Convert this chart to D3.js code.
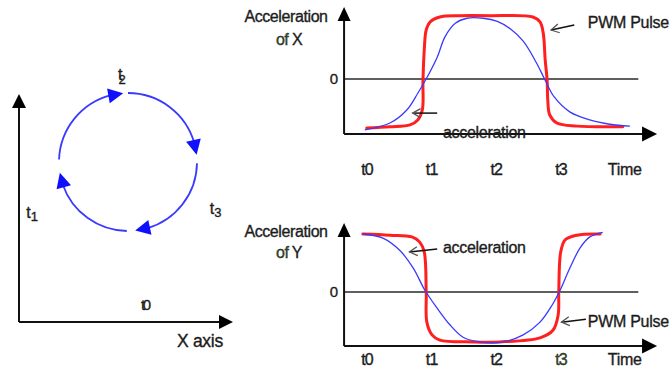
<!DOCTYPE html>
<html><head><meta charset="utf-8">
<script src="https://cdn.jsdelivr.net/npm/d3@7"></script>
<style>
html,body{margin:0;padding:0;background:#fff;}
svg{display:block;font-family:"Liberation Sans",Arial,sans-serif;}
svg text{stroke:#1c1c1c;stroke-width:0.35px;}
</style></head><body>
<svg id="chart" width="670" height="373"></svg>
<script>
// ---- time axis (shared by both acceleration plots) ----
const timeTicks = [0, 1, 2, 3];
const timeLabels = ["t0", "t1", "t2", "t3"];
const levelTicks = [0];
const levelLabels = ["0"];

// ---- acceleration of X: [time, level] ----
const pwmX = [[-0.02,-0.79],[0.34,-0.77],[0.65,-0.74],[0.77,-0.66],[0.84,-0.50],[0.85,-0.02],[0.87,0.47],[0.90,0.79],[0.96,0.92],[1.11,1.0],[1.42,1.02],[1.89,1.02],[2.55,1.0],[2.66,0.92],[2.71,0.74],[2.74,0.31],[2.77,-0.02],[2.78,-0.34],[2.81,-0.58],[2.92,-0.71],[3.23,-0.76],[3.94,-0.77]];
const accX = [[-0.05,-0.82],[0.34,-0.71],[0.60,-0.50],[0.77,-0.23],[0.91,0.02],[1.07,0.35],[1.19,0.68],[1.35,0.90],[1.53,0.98],[1.78,0.98],[2.00,0.93],[2.20,0.81],[2.40,0.61],[2.60,0.27],[2.74,-0.02],[2.88,-0.29],[3.12,-0.53],[3.43,-0.66],[3.74,-0.73],[4.05,-0.76]];

// ---- acceleration of Y: [time, level] ----
const pwmY = [[-0.08,1.0],[0.34,0.98],[0.68,0.95],[0.80,0.86],[0.87,0.69],[0.90,0.0],[0.91,-0.52],[0.99,-0.74],[1.11,-0.83],[1.62,-0.86],[2.04,-0.86],[2.66,-0.79],[2.86,-0.66],[2.94,-0.40],[2.95,0.0],[2.98,0.69],[3.05,0.90],[3.23,0.98],[3.59,1.0]];
const accY = [[-0.08,1.0],[0.23,0.93],[0.49,0.72],[0.70,0.41],[0.88,0.03],[1.07,-0.28],[1.27,-0.57],[1.47,-0.78],[1.73,-0.86],[2.09,-0.86],[2.40,-0.74],[2.66,-0.52],[2.85,-0.22],[2.97,0.03],[3.12,0.41],[3.28,0.76],[3.43,0.95],[3.63,1.03]];

// ---- circular motion: quarter arcs (degrees, clockwise from top) ----
const orbitArcs = [[272, 356], [0, 84], [91, 174], [181, 261]];
const orbitLabels = [
  {base: "t", sub: "2", angle: 0,   dist: 1.25, dx: -10, dy: 4,  subDx: -4, subDy: 4},
  {base: "t", sub: "1", angle: 270, dist: 1.3,  dx: -12, dy: 56, subDx: 0,  subDy: 3},
  {base: "t", sub: "3", angle: 90,  dist: 1.2,  dx: -1,  dy: 52, subDx: 0,  subDy: 3}
];

const svg = d3.select("#chart");
const INK = "#1c1c1c";
const RED = "#ff1f1f";
const BLUE = "#3a3aff";
const FONT = "Liberation Sans, Arial, sans-serif";

const x = d3.scaleLinear().domain([0, 3]).range([368, 562]);

// filled triangular arrow head with tip at (tx,ty) pointing along (ux,uy)
function arrowHead(g, tx, ty, ux, uy, len, half, fill) {
  const bx = tx - ux * len, by = ty - uy * len;
  const px = -uy, py = ux;
  g.append("path")
    .attr("d", `M${tx},${ty}L${bx + px * half},${by + py * half}L${bx - px * half},${by - py * half}Z`)
    .attr("fill", fill);
}

// open arrow pointer for callouts
svg.append("defs").append("marker")
  .attr("id", "open")
  .attr("markerUnits", "userSpaceOnUse")
  .attr("viewBox", "-10 -6 12 12")
  .attr("markerWidth", 12).attr("markerHeight", 12)
  .attr("refX", 0).attr("refY", 0)
  .attr("orient", "auto")
  .append("path")
  .attr("d", "M-8,-4.5L0,0L-8,4.5")
  .attr("fill", "none").attr("stroke", "#555").attr("stroke-width", 1.3);

function panel(cfg) {
  const y = d3.scaleLinear().domain([0, 1]).range([cfg.zeroY, cfg.oneY]);
  const g = svg.append("g");
  const x0 = x(-0.37), xEnd = x(4.47), yBot = y(cfg.bottom), yTop = y(cfg.top);

  // zero line
  g.append("line").attr("x1", x0).attr("x2", x(4.18)).attr("y1", y(0)).attr("y2", y(0))
    .attr("stroke", "#2a2a2a").attr("stroke-width", 1.6);

  const line = d3.line().x(d => x(d[0])).y(d => y(d[1])).curve(d3.curveCatmullRom.alpha(0.5));
  g.append("path").attr("d", line(cfg.pwm)).attr("fill", "none")
    .attr("stroke", RED).attr("stroke-width", 3).attr("stroke-linejoin", "round").attr("stroke-linecap", "round");
  g.append("path").attr("d", line(cfg.acc)).attr("fill", "none")
    .attr("stroke", BLUE).attr("stroke-width", 1.3);

  // axes with arrow heads
  g.append("line").attr("x1", x0).attr("x2", x0).attr("y1", yBot).attr("y2", yTop + 12)
    .attr("stroke", "#111").attr("stroke-width", 2);
  arrowHead(g, x0, yTop, 0, -1, 14, 6.5, "#000");
  g.append("line").attr("x1", x0).attr("x2", xEnd - 12).attr("y1", yBot).attr("y2", yBot)
    .attr("stroke", "#111").attr("stroke-width", 2);
  arrowHead(g, xEnd, yBot, 1, 0, 15, 7.5, "#000");

  // time tick labels
  const ax = g.append("g").attr("transform", `translate(0,${cfg.tickBase})`)
    .call(d3.axisBottom(x).tickValues(timeTicks).tickFormat((d, i) => timeLabels[i]).tickSize(0));
  ax.attr("font-size", 16).attr("font-family", FONT);
  ax.select(".domain").remove();
  ax.selectAll("text").attr("y", 0).attr("dy", 0).attr("dx", -1.5)
    .attr("fill", cfg.tickColors ? null : INK).attr("letter-spacing", -0.8);
  if (cfg.tickColors) ax.selectAll("text").attr("fill", (d, i) => cfg.tickColors[i]);
  g.append("text").attr("x", x(3.97)).attr("y", cfg.tickBase).attr("text-anchor", "middle")
    .attr("font-size", 16).attr("fill", INK).attr("letter-spacing", -0.3).text("Time");

  // zero label
  const ay = g.append("g").attr("transform", `translate(${x0},0)`)
    .call(d3.axisLeft(y).tickValues(levelTicks).tickFormat((d, i) => levelLabels[i]).tickSize(0).tickPadding(6));
  ay.attr("font-size", 15).attr("font-family", FONT);
  ay.select(".domain").remove();
  ay.selectAll("text").attr("fill", INK);

  // axis title
  g.append("text").attr("x", 286).attr("y", cfg.titleBase).attr("text-anchor", "middle")
    .attr("font-size", 16).attr("letter-spacing", -0.4).attr("fill", INK).text("Acceleration");
  const t2 = g.append("text").attr("x", 289).attr("y", cfg.titleBase + cfg.subGap).attr("text-anchor", "middle")
    .attr("font-size", 16).attr("letter-spacing", -0.6).attr("fill", INK);
  t2.append("tspan").attr("fill", "#2f4a25").text("of");
  t2.append("tspan").text(" " + cfg.axisName);

  // callouts
  cfg.notes.forEach(n => {
    g.append("line").attr("x1", x(n.from[0])).attr("y1", y(n.from[1]))
      .attr("x2", x(n.to[0])).attr("y2", y(n.to[1]))
      .attr("stroke", "#111").attr("stroke-width", 1.5).attr("marker-end", "url(#open)");
    g.append("text").attr("x", x(n.text[0])).attr("y", y(n.text[1]))
      .attr("font-size", 16).attr("letter-spacing", -0.3).attr("fill", INK).text(n.label);
  });
}

panel({
  pwm: pwmX, acc: accX, zeroY: 79, oneY: 17, bottom: -0.887, top: 1.16,
  tickBase: 175, titleBase: 22, subGap: 23, axisName: "X",
  notes: [
    {label: "PWM Pulse", from: [3.19, 0.87], to: [2.83, 0.79], text: [3.40, 0.82]},
    {label: "acceleration", from: [1.07, -0.55], to: [0.69, -0.55], text: [1.16, -0.95]}
  ]
});
panel({
  pwm: pwmY, acc: accY, zeroY: 292, oneY: 234, bottom: -0.93, top: 1.19,
  tickBase: 365, titleBase: 237, subGap: 21, axisName: "Y",
  tickColors: [INK, INK, INK, "#2f4a25"],
  notes: [
    {label: "acceleration", from: [1.07, 0.74], to: [0.64, 0.69], text: [1.16, 0.67]},
    {label: "PWM Pulse", from: [3.37, -0.47], to: [2.99, -0.52], text: [3.40, -0.6]}
  ]
});

// ---- left diagram: circular motion in the X/Y plane ----
const L = {ox: 19, oy: 322, w: 214, h: 228};
const gl = svg.append("g");
gl.append("line").attr("x1", L.ox).attr("x2", L.ox).attr("y1", L.oy).attr("y2", L.oy - L.h + 12)
  .attr("stroke", "#111").attr("stroke-width", 2);
arrowHead(gl, L.ox, L.oy - L.h, 0, -1, 14, 7, "#000");
gl.append("line").attr("x1", L.ox).attr("x2", L.ox + L.w - 12).attr("y1", L.oy).attr("y2", L.oy)
  .attr("stroke", "#111").attr("stroke-width", 2);
arrowHead(gl, L.ox + L.w, L.oy, 1, 0, 14, 7, "#000");
gl.append("text").attr("x", 177).attr("y", 347).attr("font-size", 17.5).attr("letter-spacing", -0.3)
  .attr("fill", INK).text("X axis");
gl.append("text").attr("x", 141).attr("y", 310).attr("font-size", 15).attr("fill", INK)
  .attr("letter-spacing", -2.5).text("t0");

const orbit = {cx: 128, cy: 162, r: 69};
const rad = d => d * Math.PI / 180;
const pt = (a, r) => [orbit.cx + r * Math.sin(rad(a)), orbit.cy - r * Math.cos(rad(a))];
const arcGen = d3.arc().innerRadius(orbit.r).outerRadius(orbit.r);
orbitArcs.forEach(([a0, a1]) => {
  const headLen = 15;
  const headDeg = headLen / orbit.r * 180 / Math.PI;
  const stop = a1 - headDeg * 0.8;
  gl.append("path")
    .attr("transform", `translate(${orbit.cx},${orbit.cy})`)
    .attr("d", arcGen({startAngle: rad(a0), endAngle: rad(stop)}))
    .attr("fill", "none").attr("stroke", BLUE).attr("stroke-width", 1.8);
  const tip = pt(a1, orbit.r), base = pt(a1 - headDeg, orbit.r);
  const dx = tip[0] - base[0], dy = tip[1] - base[1], n = Math.hypot(dx, dy);
  arrowHead(gl, tip[0], tip[1], dx / n, dy / n, headLen, 7.5, "#1010ff");
});
orbitLabels.forEach(l => {
  const p = pt(l.angle, orbit.r * l.dist);
  const t = gl.append("text").attr("x", p[0] + l.dx).attr("y", p[1] + l.dy)
    .attr("font-size", 16).attr("fill", INK);
  t.append("tspan").text(l.base);
  t.append("tspan").attr("dx", l.subDx).attr("dy", l.subDy).attr("font-size", 13).text(l.sub);
});
</script>
</body></html>
